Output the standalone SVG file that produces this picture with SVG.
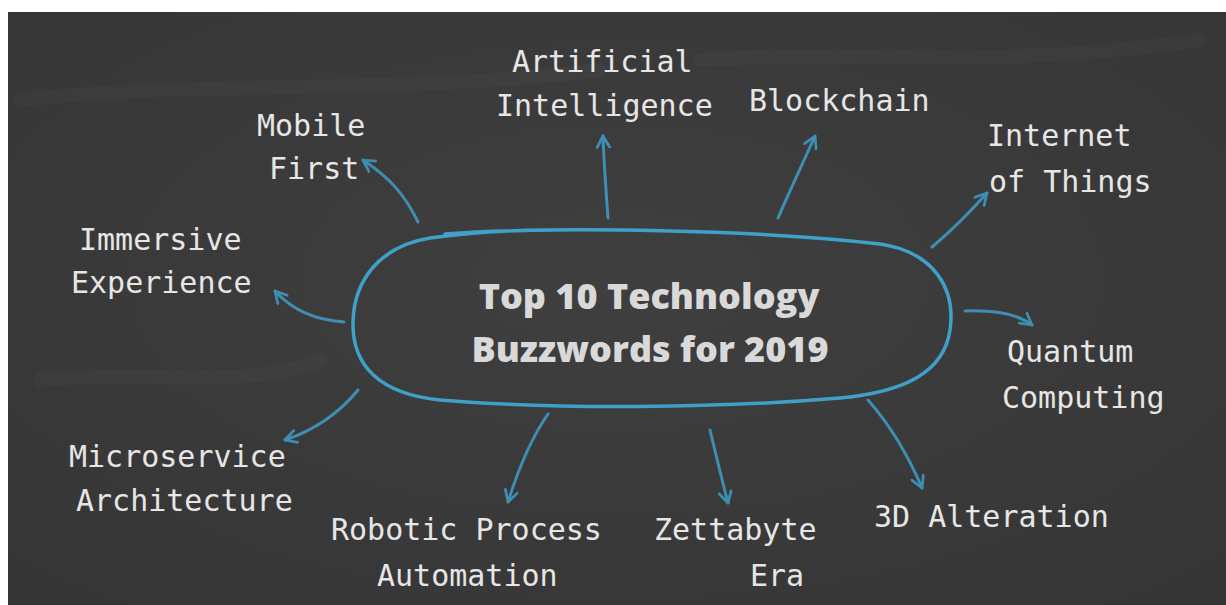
<svg xmlns="http://www.w3.org/2000/svg" width="1226" height="605" viewBox="0 0 1226 605">
<defs>
<style>
.lbl{font-family:"DejaVu Sans Mono","Liberation Mono",monospace;font-size:30px;fill:#e6e6e6;}
.ttl{font-family:"Open Sans","Noto Sans",sans-serif;font-weight:800;font-size:36px;fill:#d9d9d9;text-anchor:middle;}
.arr{fill:none;stroke:#3f98c2;stroke-width:3;stroke-linecap:round;stroke-linejoin:round;opacity:0.9;}
.loop{fill:none;stroke:#3fa0c8;stroke-width:3.5;stroke-linecap:round;}
</style>
<marker id="ah" viewBox="0 0 12 12" refX="10" refY="6" markerWidth="5" markerHeight="5" orient="auto" markerUnits="strokeWidth">
<path d="M1,1 L10,6 L1,11" fill="none" stroke="#3f98c2" stroke-width="2.2" stroke-linecap="round" stroke-linejoin="round"/>
</marker>
<radialGradient id="bg" cx="0.5" cy="0.45" r="0.75">
<stop offset="0" stop-color="#403f3f"/>
<stop offset="1" stop-color="#363535"/>
</radialGradient>
</defs>
<rect x="0" y="0" width="1226" height="605" fill="#ffffff"/>
<rect x="8" y="12" width="1218" height="593" fill="url(#bg)"/>
<g opacity="0.025" stroke="#ffffff" stroke-width="14" fill="none" stroke-linecap="round">
<path d="M20,100 C200,80 400,95 600,70"/>
<path d="M700,60 C850,50 1000,70 1200,40"/>
<path d="M40,380 C150,370 250,390 320,360"/>
</g>

<g id="center">
<path class="loop" d="M445,234 C560,226 760,230 880,244 C935,252 956,290 950,330 C944,372 905,392 840,398 C720,408 560,410 440,400 C380,394 352,366 353,322 C354,280 380,246 430,238 C470,232 520,230 560,230"/>
<text class="ttl" x="649" y="309">Top 10 Technology</text>
<text class="ttl" x="650" y="362">Buzzwords for 2019</text>
</g>

<g id="connectors">
<path class="arr" marker-end="url(#ah)" d="M418,222 C405,195 390,178 363,160"/>
<path class="arr" marker-end="url(#ah)" d="M608,218 C606,190 604,165 603,136"/>
<path class="arr" marker-end="url(#ah)" d="M778,218 C790,190 802,165 815,136"/>
<path class="arr" marker-end="url(#ah)" d="M932,247 C950,232 970,212 987,193"/>
<path class="arr" marker-end="url(#ah)" d="M965,311 C990,310 1015,312 1032,325"/>
<path class="arr" marker-end="url(#ah)" d="M344,322 C315,320 292,310 275,291"/>
<path class="arr" marker-end="url(#ah)" d="M358,390 C340,412 315,430 285,440"/>
<path class="arr" marker-end="url(#ah)" d="M548,414 C530,440 518,470 508,502"/>
<path class="arr" marker-end="url(#ah)" d="M710,430 C716,455 722,480 728,503"/>
<path class="arr" marker-end="url(#ah)" d="M868,400 C890,425 908,455 922,488"/>
</g>

<g id="mobile-first"><text class="lbl" x="257" y="136">Mobile</text><text class="lbl" x="269" y="179">First</text></g>
<g id="artificial-intelligence"><text class="lbl" x="512" y="72">Artificial</text><text class="lbl" x="496" y="116">Intelligence</text></g>
<g id="blockchain"><text class="lbl" x="749" y="111">Blockchain</text></g>
<g id="internet-of-things"><text class="lbl" x="987" y="146">Internet</text><text class="lbl" x="989" y="192">of Things</text></g>
<g id="immersive-experience"><text class="lbl" x="79" y="250">Immersive</text><text class="lbl" x="71" y="293">Experience</text></g>
<g id="quantum-computing"><text class="lbl" x="1007" y="362">Quantum</text><text class="lbl" x="1002" y="408">Computing</text></g>
<g id="microservice-architecture"><text class="lbl" x="69" y="467">Microservice</text><text class="lbl" x="76" y="511">Architecture</text></g>
<g id="rpa"><text class="lbl" x="331" y="540">Robotic Process</text><text class="lbl" x="377" y="586">Automation</text></g>
<g id="zettabyte-era"><text class="lbl" x="654" y="540">Zettabyte</text><text class="lbl" x="750" y="586">Era</text></g>
<g id="alteration-3d"><text class="lbl" x="874" y="527">3D Alteration</text></g>
</svg>
